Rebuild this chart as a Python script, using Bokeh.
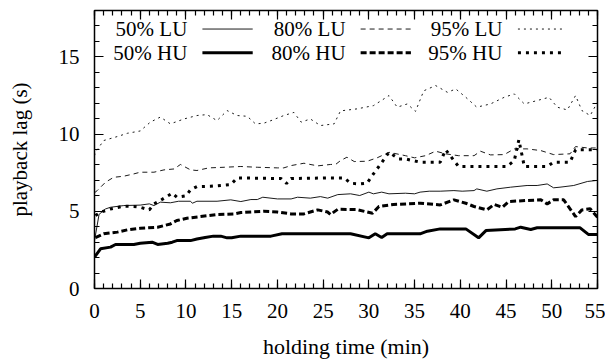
from bokeh.plotting import figure
from bokeh.models import Range1d, LinearAxis, SingleIntervalTicker, Label, Arrow, CustomJSTickFormatter
from bokeh.embed import file_html
from bokeh.resources import INLINE

# ---------------- data ----------------
x_50lu = [0, 0.5, 1.2, 1.75, 3.2, 5, 6, 6.5, 7.2, 8.3, 9.2, 10.5, 10.7, 11.2, 13.4, 14.9, 16, 17.1, 17.8, 18.4,
          20, 21.5, 22.2, 23.6, 24.7, 25.5, 26.6, 28, 29, 30, 30.5, 31.4, 32.2, 34, 35, 35.6, 36.6, 37.8, 39.3,
          40.2, 41.5, 41.8, 42.9, 44, 45.5, 47.3, 48.4, 49.5, 50.2, 50.9, 52.4, 53.9, 55]
y_50lu = [3.1, 4.8, 5.15, 5.26, 5.37, 5.4, 5.48, 5.37, 5.59, 5.55, 5.65, 5.65, 5.52, 5.65, 5.65, 5.74, 5.63, 5.76,
          5.76, 5.91, 5.8, 5.8, 5.91, 5.85, 5.95, 5.85, 6.08, 6.13, 6.02, 6.24, 6.13, 6.24, 6.13, 6.17, 6.13, 6.24,
          6.3, 6.3, 6.34, 6.3, 6.34, 6.45, 6.3, 6.45, 6.56, 6.67, 6.67, 6.77, 6.52, 6.56, 6.67, 6.93, 7.0]

x_80lu = [0, 0.3, 1.2, 2.1, 3.2, 4.3, 5, 6.5, 7.6, 8.7, 9.4, 10.5, 11.2, 12.5, 14.2, 16, 17.8, 20, 20.7, 21.5,
          22.9, 24.4, 25.8, 26.4, 26.9, 27.6, 28.4, 29.8, 30.9, 32.2, 34, 35, 36.2, 37.3, 38.4, 39.8, 41.5, 42.2,
          43.3, 44.8, 45.9, 47.3, 48.8, 50.2, 52, 52.6, 53.9, 55]
y_80lu = [6.2, 6.34, 6.88, 7.2, 7.27, 7.42, 7.53, 7.53, 7.68, 7.74, 8.03, 7.68, 7.64, 7.81, 7.85, 7.9, 7.85, 7.81,
          7.81, 7.96, 8.11, 7.94, 8.03, 8.05, 8.28, 8.5, 8.22, 8.24, 8.46, 8.82, 8.6, 8.46, 8.6, 8.89, 8.72, 8.6,
          8.6, 8.89, 8.65, 8.67, 9.04, 9.04, 8.93, 8.67, 8.72, 9.19, 9.1, 9.1]

x_95lu = [0, 0.1, 1, 2.5, 3.6, 5, 6.1, 7.2, 8.3, 9.8, 11.2, 12.3, 13.4, 14.5, 15.6, 16.7, 17.6, 18.5, 19.3, 20.7,
          21.8, 22.6, 23.6, 24.7, 26.2, 26.9, 28.7, 30.5, 32.2, 33.1, 34.2, 35.1, 36, 37.3, 38.6, 39.5, 40.6, 41.8,
          43.3, 44.8, 45.9, 47, 48.4, 49.7, 50.6, 51.7, 52.6, 53.3, 54.2, 55]
y_95lu = [8.6, 8.82, 9.58, 9.84, 10.05, 10.2, 10.77, 11.1, 10.66, 10.98, 11.2, 11.26, 10.87, 11.52, 11.2, 11.15,
          10.66, 10.7, 10.87, 11.2, 11.4, 10.77, 10.98, 10.55, 10.66, 11.5, 11.63, 11.84, 12.49, 11.74, 11.95, 11.47,
          12.8, 13.14, 12.7, 12.92, 12.38, 11.74, 11.95, 12.38, 12.6, 11.95, 12.17, 12.38, 11.74, 11.56, 12.49,
          11.52, 11.2, 12.06]

x_50hu = [0, 0.66, 1.75, 2.3, 4.3, 5, 6.3, 6.9, 8, 8.5, 9, 10.5, 11.2, 12.1, 13, 13.8, 14.5, 15, 16, 19.3, 20.5,
          28, 30, 30.7, 31.4, 32, 35.6, 36.4, 37.8, 40.6, 42, 42.8, 46, 46.6, 47.7, 48.4, 53.1, 54, 55]
y_50hu = [2.03, 2.57, 2.68, 2.85, 2.85, 2.93, 3.0, 2.85, 2.93, 3.0, 3.1, 3.1, 3.2, 3.3, 3.39, 3.39, 3.28, 3.28,
          3.39, 3.39, 3.54, 3.54, 3.28, 3.54, 3.3, 3.54, 3.54, 3.71, 3.86, 3.86, 3.28, 3.75, 3.86, 3.97, 3.82,
          3.93, 3.93, 3.5, 3.5]

x_80hu = [0.1, 1, 2.5, 3.6, 5, 6.9, 8.3, 9, 10.1, 11.6, 13.4, 15.3, 16, 18.5, 20, 21.5, 22.9, 24.4, 25.5, 25.8,
          26.6, 28.7, 30.4, 31.1, 32.7, 34.2, 35.6, 37.8, 39.3, 40.6, 41.5, 42.9, 43.7, 44.6, 45.3, 47.3, 48.8,
          49.5, 50.2, 51.3, 52.6, 53.3, 54.2, 55]
y_80hu = [3.3, 3.54, 3.65, 3.8, 3.9, 3.97, 4.18, 4.4, 4.55, 4.66, 4.79, 4.83, 4.92, 5.0, 4.95, 4.83, 4.83, 5.09,
          4.95, 4.79, 5.13, 5.11, 4.87, 5.31, 5.44, 5.48, 5.52, 5.41, 5.74, 5.52, 5.31, 5.09, 5.44, 5.26, 5.63, 5.7,
          5.74, 5.48, 5.74, 5.74, 4.66, 5.09, 5.16, 4.62]

x_95hu = [0.1, 0.66, 1.75, 3.2, 4.3, 5, 6, 6.5, 7.2, 8.5, 9, 10, 10.5, 11.2, 12.7, 14.9, 15.6, 17.8, 20.4, 21,
          21.5, 25.8, 27.3, 28, 29, 29.8, 30.5, 31.3, 32.2, 33.3, 34, 35.6, 37.8, 38.4, 38.9, 39.8, 45.1, 45.9,
          46.4, 47, 49.5, 50.2, 52, 52.6, 55]
y_95hu = [4.72, 4.94, 5.15, 5.33, 5.31, 5.26, 5.09, 5.48, 5.7, 6.17, 5.91, 6.0, 6.39, 6.6, 6.62, 6.73, 7.16, 7.14,
          7.12, 6.8, 7.12, 7.16, 7.16, 6.82, 6.77, 6.82, 7.42, 8.07, 8.82, 8.39, 8.39, 8.18, 8.18, 8.98, 8.6, 7.9,
          7.9, 8.28, 9.62, 7.9, 7.9, 8.18, 8.18, 8.98, 8.98]

series_names = ["50% LU", "80% LU", "95% LU", "50% HU", "80% HU", "95% HU"]

FONT = "Liberation Serif"
FS = "21px"

p = figure(width=605, height=362, output_backend="svg", toolbar_location=None,
           x_range=Range1d(0, 55), y_range=Range1d(0, 18),
           min_border_left=94, min_border_right=8, min_border_top=10, min_border_bottom=74)
p.background_fill_color = "white"
p.border_fill_color = "white"
p.outline_line_color = "black"
p.outline_line_width = 1.5
p.xgrid.visible = False
p.ygrid.visible = False


def style_axis(ax, labels=True):
    ax.ticker = SingleIntervalTicker(interval=5, num_minor_ticks=5)
    ax.axis_line_color = None
    ax.major_tick_in = 9
    ax.major_tick_out = 0
    ax.minor_tick_in = 5
    ax.minor_tick_out = 0
    ax.major_tick_line_color = "black"
    ax.minor_tick_line_color = "black"
    ax.major_tick_line_width = 1.2
    ax.minor_tick_line_width = 1.2
    ax.major_label_text_font = FONT
    ax.major_label_text_font_size = FS
    ax.major_label_text_color = "black"
    ax.axis_label_text_font = FONT
    ax.axis_label_text_font_size = FS
    ax.axis_label_text_font_style = "normal"
    ax.axis_label_text_color = "black"
    if not labels:
        ax.formatter = CustomJSTickFormatter(code="return ''")
        ax.major_label_standoff = 0


style_axis(p.xaxis[0])
style_axis(p.yaxis[0])
p.xaxis[0].axis_label = "holding time (min)"
p.xaxis[0].axis_label_text_font_size = "22px"
p.yaxis[0].axis_label = "playback lag (s)"
p.xaxis[0].major_label_standoff = 15
p.xaxis[0].axis_label_standoff = 13
p.yaxis[0].major_label_standoff = 15
p.yaxis[0].axis_label_standoff = 24

top_ax = LinearAxis()
style_axis(top_ax, labels=False)
p.add_layout(top_ax, "above")
right_ax = LinearAxis()
style_axis(right_ax, labels=False)
p.add_layout(right_ax, "right")

styles = {
    "50% LU": dict(line_width=0.9, line_dash="solid"),
    "80% LU": dict(line_width=0.9, line_dash="5 4"),
    "95% LU": dict(line_width=0.9, line_dash="2 4"),
    "50% HU": dict(line_width=3.0, line_dash="solid"),
    "80% HU": dict(line_width=3.0, line_dash="6 3"),
    "95% HU": dict(line_width=3.0, line_dash="3 5"),
}
xs = [x_50lu, x_80lu, x_95lu, x_50hu, x_80hu, x_95hu]
ys = [y_50lu, y_80lu, y_95lu, y_50hu, y_80hu, y_95hu]
for name, xv, yv in zip(series_names, xs, ys):
    p.line(xv, yv, line_color="black", **styles[name])

# legend (gnuplot style: text right-aligned, then sample)
leg_text_right = [10.15, 27.45, 44.6]
leg_line_start = [11.8, 29.1, 46.3]
leg_line_end = [17.3, 34.6, 51.5]
leg_rows = [16.8, 15.27]
for i, name in enumerate(series_names):
    r, c = divmod(i, 3)
    p.add_layout(Label(x=leg_text_right[c], y=leg_rows[r], text=name, text_align="right",
                       text_baseline="middle", text_font=FONT, text_font_size=FS, text_color="black"))
    p.add_layout(Arrow(x_start=leg_line_start[c], y_start=leg_rows[r], x_end=leg_line_end[c], y_end=leg_rows[r],
                       end=None, line_color="black", **styles[name]))

open("out.html", "w").write(file_html(p, INLINE))
